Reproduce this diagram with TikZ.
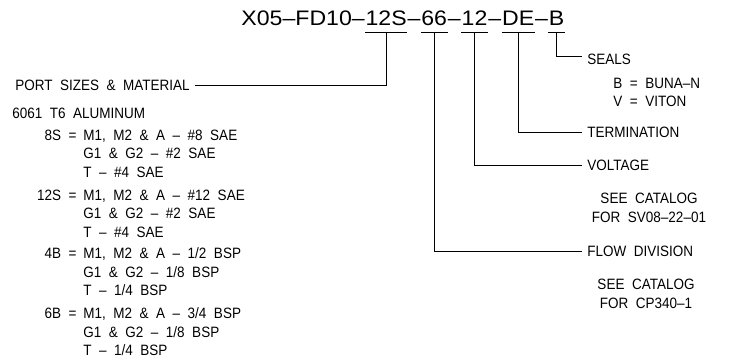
\documentclass[tikz,border=0pt]{standalone}
\usepackage{fontspec}
\setmainfont{Liberation Sans}[FakeStretch=0.9, WordSpace=2]
\newfontfamily\partfont{Liberation Sans}[FakeStretch=1.1]
\usetikzlibrary{positioning,calc}

\begin{document}
\begin{tikzpicture}[
    x=1pt, y=-1pt,
    line width=0.9pt,
    part/.style={inner sep=0pt, text height=15pt, text depth=7pt, font=\partfont\fontsize{21}{21}\selectfont},
    field/.style={inner xsep=5pt, inner ysep=0pt, anchor=west, font=\fontsize{15}{18.5}\selectfont},
    note/.style={inner sep=0pt, align=left, anchor=north west, font=\fontsize{15}{18.5}\selectfont},
    code/.style={inner sep=0pt, anchor=north east, font=\fontsize{15}{18.5}\selectfont},
    seecat/.style={inner sep=0pt, align=center, font=\fontsize{15}{19.5}\selectfont}
]
\useasboundingbox (0,0) rectangle (735,360);

% Model code (y = 21)
\node[part, anchor=west] (model) at (241, 21) {X05–FD10–};
\node[part, right=0pt of model] (ports) {12S};
\node[part, right=0pt of ports] (dash1) {–};
\node[part, right=0pt of dash1] (flow) {66};
\node[part, right=0pt of flow] (dash2) {–};
\node[part, right=0pt of dash2] (volt) {12};
\node[part, right=0pt of volt] (dash3) {–};
\node[part, right=0pt of dash3] (term) {DE};
\node[part, right=0pt of term] (dash4) {–};
\node[part, right=0pt of dash4] (seal) {B};

% Underlines of the coded fields
\foreach \f in {ports, flow, volt, term, seal}
    \draw (\f.south west) -- (\f.south east);

% Right side: field names
\node[field] (seals) at (582, 59) {SEALS};
\node[note] (sealopts) at (613, 77.5) {B = BUNA–N\\V = VITON};
\node[field] (termlbl) at (582, 132) {TERMINATION};
\node[field] (voltlbl) at (582, 165) {VOLTAGE};
\node[seecat] (voltnote) at (649, 208) {SEE CATALOG\\FOR SV08–22–01};
\node[field] (flowlbl) at (582, 251) {FLOW DIVISION};
\node[seecat] (flownote) at (646, 294) {SEE CATALOG\\FOR CP340–1};

% Left side: port sizes & material
\node[field] (portlbl) at (10, 85) {PORT SIZES \& MATERIAL};
\node[field, inner xsep=0pt] (alloy) at (12, 113) {6061 T6 ALUMINUM};

\node[note] (g8s) at (83, 129.5) {M1, M2 \& A – \#8 SAE\\G1 \& G2 – \#2 SAE\\T – \#4 SAE};
\node[note] (g12s) at (83, 189.5) {M1, M2 \& A – \#12 SAE\\G1 \& G2 – \#2 SAE\\T – \#4 SAE};
\node[note] (g4b) at (83, 247.5) {M1, M2 \& A – 1/2 BSP\\G1 \& G2 – 1/8 BSP\\T – 1/4 BSP};
\node[note] (g6b) at (83, 307.5) {M1, M2 \& A – 3/4 BSP\\G1 \& G2 – 1/8 BSP\\T – 1/4 BSP};

\node[code] (c8s) at ($(g8s.north west)+(-6, 0)$) {8S =};
\node[code] (c12s) at ($(g12s.north west)+(-6, 0)$) {12S =};
\node[code] (c4b) at ($(g4b.north west)+(-6, 0)$) {4B =};
\node[code] (c6b) at ($(g6b.north west)+(-6, 0)$) {6B =};

% Leaders from the code to the field names
\draw (ports.south) |- (portlbl.east);
\draw (flow.south) |- (flowlbl.west);
\draw (volt.south) |- (voltlbl.west);
\draw (term.south) |- (termlbl.west);
\draw (seal.south) |- ([yshift=3pt]seals.west);

\end{tikzpicture}
\end{document}
